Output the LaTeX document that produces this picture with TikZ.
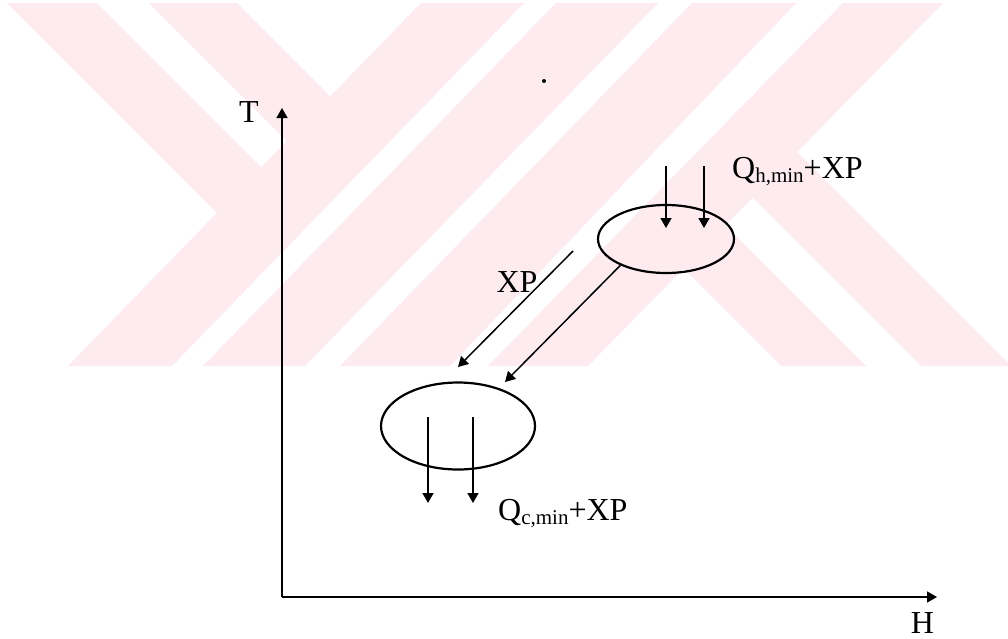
\documentclass[tikz,border=0pt]{standalone}
\usepackage{fontspec}
\setmainfont{Liberation Serif}
\usetikzlibrary{arrows.meta,shapes.geometric}
\definecolor{wm}{RGB}{253,235,239}
\begin{document}
\begin{tikzpicture}[x=1pt,y=-1pt,
  lbl/.style={font=\fontsize{32}{36}\selectfont, inner sep=0pt},
  ln/.style={line width=1.5pt},
  arr/.style={ln,-{Triangle[length=10pt,width=11pt]}},
  bubble/.style={draw,ellipse,line width=2.2pt,inner sep=0pt},
  wmark/.style={fill=wm,draw=none}]
\useasboundingbox (0,0) rectangle (1008,638);
\fill[white] (0,0) rectangle (1008,638);
% watermark
\begin{scope}
\clip (0,3) rectangle (1008,366);
\fill[wmark] (421,3) -- (524,3) -- (172,366) -- (68,366) -- cycle;
\fill[wmark] (556,3) -- (658,3) -- (305,366) -- (203,366) -- cycle;
\fill[wmark] (692,3) -- (796,3) -- (450,366) -- (340,366) -- cycle;
\fill[wmark] (843,3) -- (943,3) -- (588,366) -- (488,366) -- cycle;
\fill[wmark] (7,3) -- (97,3) -- (287.4,193.4) -- (243,239) -- cycle;
\fill[wmark] (149,3) -- (237,3) -- (356.4,122.4) -- (313,167) -- cycle;
\fill[wmark] (781,366) -- (866,366) -- (699.8,199.8) -- (657.8,242.8) -- cycle;
\fill[wmark] (921,366) -- (1011,366) -- (771.5,126.5) -- (727,172) -- cycle;
\end{scope}
% stray dot
\fill (544,81) circle (2pt);
% axes
\coordinate (O) at (282,597);
\coordinate (Ttip) at (282,108);
\coordinate (Htip) at (937,597);
\draw[arr] (O) -- (Ttip);
\draw[arr] (O) -- (Htip);
\node[lbl, anchor=base] (Tl) at (249,122) {T};
\node[lbl, anchor=base] (Hl) at (922.5,633) {H};
% ellipses
\node[bubble, minimum width=136pt, minimum height=68pt] (up) at (666,239) {};
\node[bubble, minimum width=154pt, minimum height=87pt] (lo) at (458,426) {};
% arrows into upper ellipse
\coordinate (ha1) at (666,166); \coordinate (hb1) at (666,228);
\coordinate (ha2) at (704,166); \coordinate (hb2) at (704,228);
\draw[arr] (ha1) -- (hb1);
\draw[arr] (ha2) -- (hb2);
% arrows out of lower ellipse
\coordinate (ca1) at (428,417); \coordinate (cb1) at (428,503);
\coordinate (ca2) at (473,417); \coordinate (cb2) at (473,503);
\draw[arr] (ca1) -- (cb1);
\draw[arr] (ca2) -- (cb2);
% diagonal arrows
\coordinate (xs) at (573,251); \coordinate (xe) at (458,367);
\draw[arr] (xs) -- (xe);
\coordinate (le) at (505,382);
\draw[arr] (up.210) -- (le);
% labels
\node[lbl, anchor=base] (xp) at (517,292) {XP};
\node[lbl, anchor=base west] (qh) at (732,178) {Q\raisebox{-4pt}{\fontsize{21}{21}\selectfont h,min}+XP};
\node[lbl, anchor=base west] (qc) at (498,520) {Q\raisebox{-4pt}{\fontsize{21}{21}\selectfont c,min}+XP};
\end{tikzpicture}
\end{document}
